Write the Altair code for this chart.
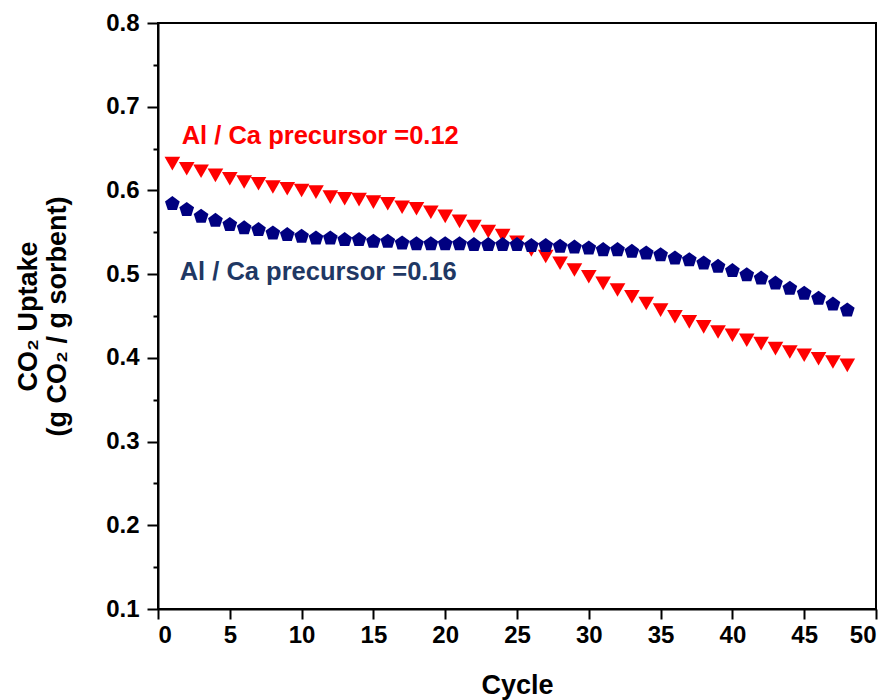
import altair as alt
import pandas as pd

cycles = list(range(1, 49))
uptake_012 = [0.632, 0.626, 0.623, 0.618, 0.614, 0.610, 0.608, 0.604, 0.602, 0.600,
              0.598, 0.592, 0.590, 0.589, 0.586, 0.584, 0.580, 0.578, 0.574, 0.569,
              0.563, 0.557, 0.551, 0.546, 0.538, 0.529, 0.521, 0.513, 0.505, 0.497,
              0.489, 0.481, 0.473, 0.465, 0.457, 0.449, 0.443, 0.437, 0.431, 0.427,
              0.421, 0.417, 0.411, 0.407, 0.403, 0.399, 0.395, 0.391]
uptake_016 = [0.584, 0.577, 0.569, 0.564, 0.559, 0.555, 0.553, 0.549, 0.547, 0.545,
              0.543, 0.543, 0.541, 0.541, 0.539, 0.539, 0.537, 0.536, 0.536, 0.536,
              0.536, 0.535, 0.535, 0.535, 0.535, 0.534, 0.534, 0.533, 0.532, 0.531,
              0.529, 0.529, 0.527, 0.525, 0.523, 0.519, 0.517, 0.513, 0.509, 0.504,
              0.499, 0.495, 0.489, 0.483, 0.477, 0.471, 0.464, 0.457]
x_ticks = [i * 2.5 for i in range(21)]
y_ticks = [0.1, 0.15, 0.2, 0.25, 0.3, 0.35, 0.4, 0.45, 0.5, 0.55, 0.6, 0.65, 0.7, 0.75, 0.8]
label_012 = "Al / Ca precursor =0.12"
label_016 = "Al / Ca precursor =0.16"

df_a = pd.DataFrame({"cycle": cycles, "uptake": uptake_012})
df_b = pd.DataFrame({"cycle": cycles, "uptake": uptake_016})

FONT = "Liberation Sans"
PENTAGON = "M0,-1L0.951,-0.309L0.588,0.809L-0.588,0.809L-0.951,-0.309Z"

x_enc = alt.X("cycle:Q", scale=alt.Scale(domain=[0, 50], nice=False),
              axis=alt.Axis(values=x_ticks, title="Cycle",
                            labelExpr="datum.value % 5 === 0 ? datum.label : ''",
                            tickSize={"condition": {"test": "datum.value % 5 !== 0", "value": 5}, "value": 10},
                            labelPadding=4, titleY=84, titleBaseline="alphabetic",
                            titleFontSize=27))
y_enc = alt.Y("uptake:Q", scale=alt.Scale(domain=[0.1, 0.8], nice=False),
              axis=alt.Axis(values=y_ticks, format=".1f",
                            title=["CO₂ Uptake", "(g CO₂ / g sorbent)"],
                            labelExpr="round(datum.value*100) % 10 === 0 ? datum.label : ''",
                            tickSize={"condition": {"test": "round(datum.value*100) % 10 !== 0", "value": 5}, "value": 11},
                            labelPadding=8, titleX=-143, titleY=293, titleAngle=-90,
                            titleAlign="center", titleBaseline="top", titleLineHeight=29,
                            titleFontSize=27))

red = alt.Chart(df_a).mark_point(shape="triangle-down", filled=True, size=245,
                                  color="#FF0000", opacity=1).encode(x=x_enc, y=y_enc)
navy = alt.Chart(df_b).mark_point(shape=PENTAGON, filled=True, size=240,
                                   color="#000080", opacity=1).encode(x="cycle:Q", y="uptake:Q")

txt_a = alt.Chart(pd.DataFrame({"t": [label_012]})).mark_text(
    align="left", baseline="alphabetic", font=FONT, fontWeight="bold", fontSize=25.5,
    color="#FF0000").encode(x=alt.datum(1.65), y=alt.datum(0.655), text="t:N")
txt_b = alt.Chart(pd.DataFrame({"t": [label_016]})).mark_text(
    align="left", baseline="alphabetic", font=FONT, fontWeight="bold", fontSize=25.5,
    color="#1F3864").encode(x=alt.datum(1.51), y=alt.datum(0.493), text="t:N")

chart = alt.layer(red, navy, txt_a, txt_b).properties(
    width=718, height=586,
    autosize=alt.AutoSizeParams(type="none"),
    padding={"left": 158, "top": 23, "right": 19, "bottom": 91},
).configure_view(stroke="black", strokeWidth=2).configure_axis(
    domainColor="black", domainWidth=2, tickColor="black", tickWidth=2,
    labelFont=FONT, labelFontWeight="bold", labelFontSize=24, labelColor="black",
    titleFont=FONT, titleFontWeight="bold", titleColor="black", grid=False,
)

chart.save("out.html", embed_options={"renderer": "svg", "actions": False})
